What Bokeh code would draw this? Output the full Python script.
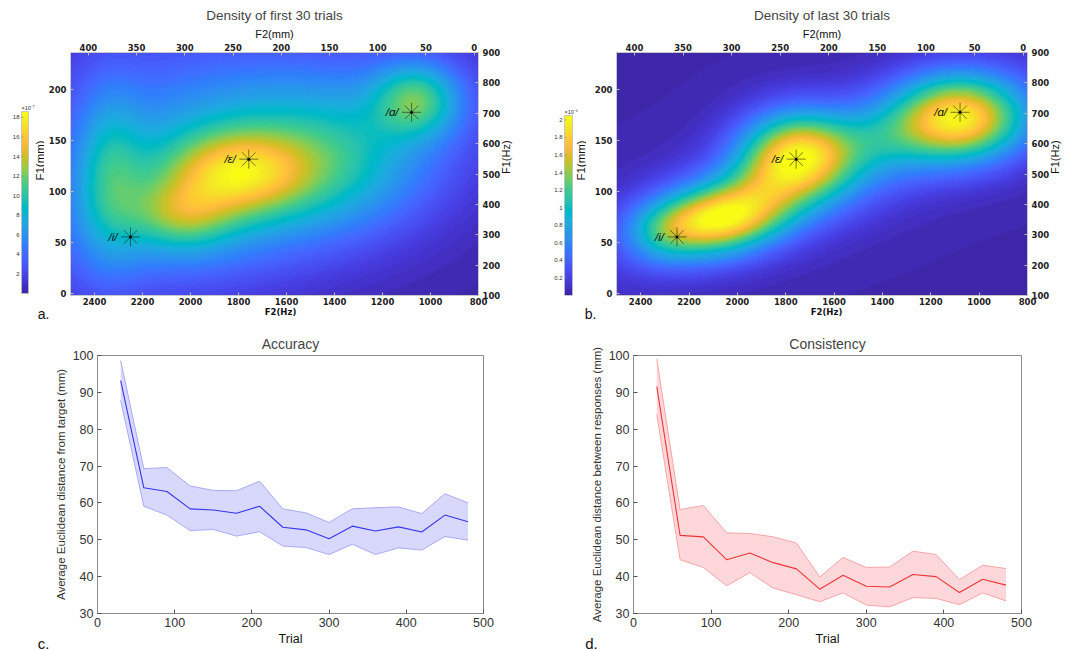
import math
import numpy as np
from bokeh.plotting import figure
from bokeh.models import Range1d, LinearAxis, LinearColorMapper, FixedTicker
from bokeh.layouts import row, column
from bokeh.embed import file_html
from bokeh.resources import INLINE
from bokeh.core.properties import value

# ---------------- data ----------------
trials = [30, 60, 90, 120, 150, 180, 210, 240, 270, 300, 330, 360, 390, 420, 450, 480]
acc_mean = [93.2, 64.1, 63.1, 58.4, 58.1, 57.2, 59.1, 53.4, 52.7, 50.3, 53.7, 52.4, 53.5, 52.1, 56.7, 54.9]
acc_upper = [98.6, 69.3, 69.6, 64.6, 63.4, 63.3, 65.9, 58.4, 57.3, 54.7, 58.4, 58.7, 58.9, 57.1, 62.5, 60.0]
acc_lower = [87.8, 59.1, 56.7, 52.5, 52.8, 51.0, 52.2, 48.3, 47.9, 46.0, 48.8, 46.0, 47.8, 47.2, 50.9, 49.9]
con_mean = [91.6, 51.2, 50.8, 44.6, 46.4, 43.8, 42.1, 36.6, 40.4, 37.4, 37.2, 40.6, 40.0, 35.7, 39.3, 37.7]
con_upper = [99.1, 58.2, 59.3, 51.9, 51.7, 50.8, 49.1, 39.9, 45.2, 42.5, 42.6, 46.9, 46.0, 39.2, 43.1, 42.2]
con_lower = [84.0, 44.6, 42.5, 37.5, 41.1, 36.9, 35.1, 33.2, 35.6, 32.3, 31.8, 34.3, 34.1, 32.4, 35.6, 33.4]

vowel_labels = ["/i/", "/\u025b/", "/\u0251/"]
vowel_f2_hz = [2250, 1757, 1079]
vowel_f1_mm = [55.6, 131.7, 177.5]

# density surfaces: sums of Gaussian components (F2 in Hz, F1 in mm)
first_cx = [1800, 2040, 1055, 1750, 1350, 2340, 2000]
first_cy = [118, 76, 190, 115, 120, 115, 180]
first_sx = [200, 150, 125, 550, 250, 100, 500]
first_sy = [28, 24, 25, 70, 45, 60, 70]
first_rho = [0, 0, 0, -0.45, 0, 0, 0]
first_w = [7.6, 5.5, 8.0, 8.0, 2.8, 5.0, 3.0]
first_floor = 0.2
first_cmax = 18.6

last_cx = [1080, 1750, 2090, 1650, 2320, 1420, 1910]
last_cy = [172, 135, 72, 120, 58, 150, 102]
last_sx = [190, 160, 190, 550, 100, 150, 120]
last_sy = [29, 30, 24, 60, 20, 25, 25]
last_rho = [0, 0, -0.2, -0.75, 0, 0, 0]
last_w = [1.7, 1.6, 1.7, 0.45, 0.3, 0.3, 0.25]
last_floor = 0.03
last_cmax = 2.05

f2_hz_ticks = [800, 1000, 1200, 1400, 1600, 1800, 2000, 2200, 2400]
f2_mm_ticks = [0, 50, 100, 150, 200, 250, 300, 350, 400]
f1_mm_ticks = [0, 50, 100, 150, 200]
f1_hz_ticks = [100, 200, 300, 400, 500, 600, 700, 800, 900]
cb1_ticks = [2, 4, 6, 8, 10, 12, 14, 16, 18]
cb1_labels = ["2", "4", "6", "8", "10", "12", "14", "16", "18"]
cb2_ticks = [0.2, 0.4, 0.6, 0.8, 1.0, 1.2, 1.4, 1.6, 1.8, 2.0]
cb2_labels = ["0.2", "0.4", "0.6", "0.8", "1", "1.2", "1.4", "1.6", "1.8", "2"]
trial_ticks = [0, 100, 200, 300, 400, 500]
dist_ticks = [30, 40, 50, 60, 70, 80, 90, 100]

# parula colormap (style)
_par = [
(0.2422,0.1504,0.6603),(0.2504,0.1650,0.7076),(0.2578,0.1818,0.7511),(0.2647,0.1978,0.7952),
(0.2706,0.2147,0.8364),(0.2751,0.2342,0.8710),(0.2783,0.2559,0.8991),(0.2803,0.2782,0.9221),
(0.2813,0.3006,0.9414),(0.2810,0.3228,0.9579),(0.2795,0.3447,0.9717),(0.2760,0.3667,0.9829),
(0.2699,0.3892,0.9906),(0.2602,0.4123,0.9952),(0.2440,0.4358,0.9988),(0.2206,0.4603,0.9973),
(0.1963,0.4847,0.9892),(0.1834,0.5074,0.9798),(0.1786,0.5289,0.9682),(0.1764,0.5499,0.9520),
(0.1687,0.5703,0.9359),(0.1540,0.5902,0.9218),(0.1460,0.6091,0.9079),(0.1380,0.6276,0.8973),
(0.1248,0.6459,0.8883),(0.1113,0.6635,0.8763),(0.0952,0.6798,0.8598),(0.0689,0.6948,0.8394),
(0.0297,0.7082,0.8163),(0.0036,0.7203,0.7917),(0.0067,0.7312,0.7660),(0.0433,0.7411,0.7394),
(0.0964,0.7500,0.7120),(0.1408,0.7584,0.6842),(0.1717,0.7670,0.6554),(0.1938,0.7758,0.6251),
(0.2161,0.7843,0.5923),(0.2470,0.7918,0.5567),(0.2906,0.7973,0.5188),(0.3406,0.8008,0.4789),
(0.3909,0.8029,0.4354),(0.4456,0.8024,0.3909),(0.5044,0.7993,0.3480),(0.5616,0.7942,0.3045),
(0.6174,0.7876,0.2612),(0.6720,0.7793,0.2227),(0.7242,0.7698,0.1910),(0.7738,0.7598,0.1646),
(0.8203,0.7498,0.1535),(0.8634,0.7406,0.1596),(0.9035,0.7330,0.1774),(0.9393,0.7288,0.2100),
(0.9728,0.7298,0.2394),(0.9956,0.7434,0.2371),(0.9970,0.7659,0.2199),(0.9952,0.7893,0.2028),
(0.9892,0.8136,0.1885),(0.9786,0.8386,0.1766),(0.9676,0.8639,0.1643),(0.9610,0.8890,0.1537),
(0.9597,0.9135,0.1423),(0.9628,0.9373,0.1265),(0.9691,0.9606,0.1064),(0.9769,0.9839,0.0805)]
PARULA = ["#%02x%02x%02x" % tuple(int(round(c * 255)) for c in t) for t in _par]

SANS = "Liberation Sans"
BOLD = "DejaVu Sans"

X0, X1 = 2500, 800
Y0, Y1 = -1.7, 236
TOP_H = 307           # height of the density row
TOP_B, BOT_B = 52, 12  # borders of the density row (frame 52..295)
BOT_H = 312           # height of the curve row


def density(cx, cy, sx, sy, rho, w, floor):
    gx = np.linspace(X1, X0, 341)
    gy = np.linspace(Y0, Y1, 240)
    X, Y = np.meshgrid(gx, gy)
    Z = np.full(X.shape, float(floor))
    for a, b, s, t, r, k in zip(cx, cy, sx, sy, rho, w):
        u = (X - a) / s
        v = (Y - b) / t
        Z += k * np.exp(-(u * u - 2 * r * u * v + v * v) / (2 * (1 - r * r)))
    return Z


def style_bold_axis(ax, ticks):
    ax.ticker = FixedTicker(ticks=ticks)
    ax.major_label_text_font = BOLD
    ax.major_label_text_font_style = "bold"
    ax.major_label_text_font_size = "8.5px"
    ax.major_label_text_color = "#222222"
    ax.major_tick_out = 0
    ax.major_tick_in = 3
    ax.major_tick_line_color = "#bbbbbb"
    ax.minor_tick_line_color = None
    ax.axis_line_color = "#c8c8c8"
    ax.major_label_standoff = 2
    ax.axis_label_standoff = 1
    ax.axis_label_text_font = SANS
    ax.axis_label_text_font_style = "normal"
    ax.axis_label_text_font_size = "11px"
    ax.axis_label_text_color = "#111111"


def density_panel(title, Z, cmax, width, bl, br):
    p = figure(width=width, height=TOP_H, x_range=Range1d(X0, X1), y_range=Range1d(Y0, Y1),
               output_backend="svg", toolbar_location=None,
               min_border_left=bl, min_border_right=br, min_border_top=TOP_B,
               min_border_bottom=BOT_B)
    p.title.text = title
    p.title.text_font = SANS
    p.title.text_font_style = "normal"
    p.title.text_font_size = "13.5px"
    p.title.align = "center"
    p.title.standoff = 3
    p.grid.visible = False
    p.outline_line_color = "#cccccc"
    mapper = LinearColorMapper(palette=PARULA, low=0, high=cmax)
    p.image(image=[Z], x=X1, y=Y0, dw=X0 - X1, dh=Y1 - Y0, color_mapper=mapper)
    p.scatter(vowel_f2_hz, vowel_f1_mm, marker="asterisk", size=19, line_color="#1a1a1a",
              line_width=0.7, line_alpha=0.8)
    p.scatter(vowel_f2_hz, vowel_f1_mm, marker="circle", size=3, fill_color="black", line_color=None)
    p.text(vowel_f2_hz, vowel_f1_mm, text=vowel_labels, x_offset=-13, text_align="right",
           text_baseline="middle", text_font=value(SANS), text_font_style="italic",
           text_font_size="11.5px", text_color="#111111")
    style_bold_axis(p.xaxis[0], f2_hz_ticks)
    style_bold_axis(p.yaxis[0], f1_mm_ticks)
    p.yaxis[0].major_label_standoff = 4
    p.extra_x_ranges = {"mm": Range1d(418.5, -4.5)}
    tx = LinearAxis(x_range_name="mm", axis_label="F2(mm)")
    style_bold_axis(tx, f2_mm_ticks)
    p.add_layout(tx, "above")
    p.extra_y_ranges = {"hz": Range1d(100, 900)}
    ry = LinearAxis(y_range_name="hz", axis_label="F1(Hz)")
    style_bold_axis(ry, f1_hz_ticks)
    ry.major_label_standoff = 4
    ry.axis_label_standoff = 3
    ry.axis_label_orientation = math.pi / 2
    p.add_layout(ry, "right")
    return p, mapper


def colorbar_fig(mapper, cmax, ticks, labels, exp_text, width, strip_x, strip_w, top_px, bot_px,
                 ylabel_x):
    # frame covers the same vertical extent as the density panels (52..295 px)
    fh = TOP_H - TOP_B - BOT_B
    ppu = (fh - top_px - bot_px) / cmax
    y0 = -bot_px / ppu
    y1 = cmax + top_px / ppu
    c = figure(width=width, height=TOP_H, x_range=Range1d(0, width), y_range=Range1d(y0, y1),
               output_backend="svg", toolbar_location=None, x_axis_location=None,
               y_axis_location=None, min_border_left=0, min_border_right=0,
               min_border_top=TOP_B, min_border_bottom=BOT_B)
    c.outline_line_color = None
    c.grid.visible = False
    grad = np.linspace(0, cmax, 256).reshape(256, 1)
    c.image(image=[grad], x=strip_x, y=0, dw=strip_w, dh=cmax, color_mapper=mapper)
    c.quad(left=strip_x, right=strip_x + strip_w, bottom=0, top=cmax, fill_color=None,
           line_color="#bdbdbd", line_width=0.8)
    c.segment(x0=[strip_x] * len(ticks), x1=[strip_x + 2] * len(ticks), y0=ticks, y1=ticks,
              line_color="#888888", line_width=0.6)
    c.text(x=[strip_x - 2] * len(ticks), y=ticks, text=labels, text_align="right",
           text_baseline="middle", text_font=value(SANS), text_font_size="6px",
           text_color="#333333")
    c.text(x=[strip_x], y=[cmax], text=[exp_text], text_align="left", text_baseline="bottom",
           y_offset=-1, text_font=value(SANS), text_font_size="5.5px", text_color="#333333")
    # F1(mm) axis title of the neighbouring density panel (centred ~160 px from page top)
    ylab = y0 + (TOP_H - BOT_B - 160) / ppu
    c.text(x=[ylabel_x], y=[ylab], text=["F1(mm)"], angle=math.pi / 2, text_align="center",
           text_baseline="middle", text_font=value(SANS), text_font_size="11.5px",
           text_color="#111111")
    return c


def curve_panel(title, ylabel, mean, upper, lower, line_col, fill_col, edge_col, width, bl, br):
    p = figure(width=width, height=BOT_H, x_range=Range1d(0, 500), y_range=Range1d(30, 100),
               output_backend="svg", toolbar_location=None,
               min_border_left=bl, min_border_right=br, min_border_top=35, min_border_bottom=19)
    p.title.text = title
    p.title.text_font = SANS
    p.title.text_font_style = "normal"
    p.title.text_font_size = "14px"
    p.title.align = "center"
    p.title.standoff = 8
    p.grid.visible = False
    p.outline_line_color = "#8c8c8c"
    p.varea(x=trials, y1=lower, y2=upper, fill_color=fill_col, fill_alpha=1.0)
    p.line(trials, upper, line_color=edge_col, line_width=1)
    p.line(trials, lower, line_color=edge_col, line_width=1)
    p.line(trials, mean, line_color=line_col, line_width=1.1)
    for ax, ticks, lab in ((p.xaxis[0], trial_ticks, None), (p.yaxis[0], dist_ticks, ylabel)):
        ax.ticker = FixedTicker(ticks=ticks)
        ax.axis_label = lab
        ax.major_label_text_font = SANS
        ax.major_label_text_font_size = "12.5px"
        ax.major_label_text_color = "#333333"
        ax.axis_label_text_font = SANS
        ax.axis_label_text_font_style = "normal"
        ax.axis_label_text_font_size = "11.5px"
        ax.axis_label_text_color = "#333333"
        ax.major_tick_out = 0
        ax.major_tick_in = 4
        ax.major_tick_line_color = "#555555"
        ax.minor_tick_line_color = None
        ax.axis_line_color = "#8c8c8c"
        ax.major_label_standoff = 4
        ax.axis_label_standoff = 3
    return p


def text_strip(height, items):
    s = figure(width=1077, height=height, x_range=Range1d(0, 1077), y_range=Range1d(0, height),
               output_backend="svg", toolbar_location=None, x_axis_location=None,
               y_axis_location=None, min_border_left=0, min_border_right=0, min_border_top=0,
               min_border_bottom=0)
    s.outline_line_color = None
    s.grid.visible = False
    for (tx, x, y, font, style, size) in items:
        s.text(x=[x], y=[y], text=[tx], text_align="center", text_baseline="middle",
               text_font=value(font), text_font_style=style, text_font_size=size,
               text_color="#111111")
    return s


Z1 = density(first_cx, first_cy, first_sx, first_sy, first_rho, first_w, first_floor)
Z2 = density(last_cx, last_cy, last_sx, last_sy, last_rho, last_w, last_floor)

main1, m1 = density_panel("Density of first 30 trials", Z1, first_cmax, 482, 26, 48)
main2, m2 = density_panel("Density of last 30 trials", Z2, last_cmax, 491, 30, 50)
cb1 = colorbar_fig(m1, first_cmax, cb1_ticks, cb1_labels, "\u00d710\u207b\u2077", 44, 21, 7, 59, 2, 39.5)
cb2 = colorbar_fig(m2, last_cmax, cb2_ticks, cb2_labels, "\u00d710\u207b\u2076", 60, 38, 8, 63, 0, 54.5)

acc = curve_panel("Accuracy", "Average Euclidean distance from target (mm)", acc_mean, acc_upper,
                  acc_lower, "#3535ee", "#d8d8fc", "#a9a9f6", 540, 97, 57)
con = curve_panel("Consistency", "Average Euclidean distance between responses (mm)", con_mean,
                  con_upper, con_lower, "#ee3535", "#fdd7da", "#f5a5a8", 537, 93, 56)

strip_top = text_strip(13, [
    ("a.", 43, 6.5, SANS, "normal", "14px"),
    ("F2(Hz)", 280, 9, BOLD, "bold", "8.5px"),
    ("b.", 590, 6.5, SANS, "normal", "14px"),
    ("F2(Hz)", 826, 9, BOLD, "bold", "8.5px"),
])
strip_bot = text_strip(18, [
    ("c.", 43, 7.5, SANS, "normal", "15px"),
    ("Trial", 290, 12, SANS, "normal", "12.5px"),
    ("d.", 591, 7.5, SANS, "normal", "15px"),
    ("Trial", 827, 12, SANS, "normal", "12.5px"),
])

layout = column(row(cb1, main1, cb2, main2), strip_top, row(acc, con), strip_bot)
open("out.html", "w").write(file_html(layout, INLINE))
